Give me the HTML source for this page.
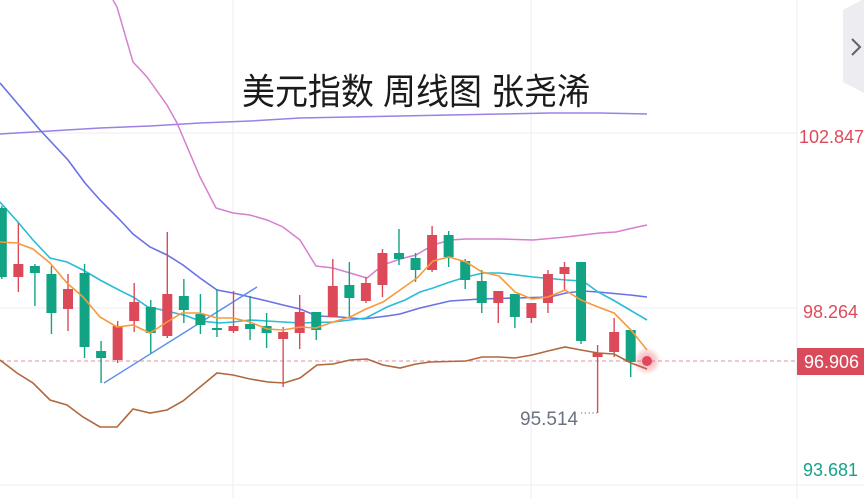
<!DOCTYPE html>
<html>
<head>
<meta charset="utf-8">
<style>
html,body{margin:0;padding:0;background:#fff;}
body{width:864px;height:498px;overflow:hidden;}
svg{display:block;}
</style>
</head>
<body>
<svg width="864" height="498" viewBox="0 0 864 498" xmlns="http://www.w3.org/2000/svg">
<defs>
<radialGradient id="glow" cx="50%" cy="50%" r="50%">
<stop offset="0%" stop-color="#e0475a" stop-opacity="0.5"/>
<stop offset="60%" stop-color="#e0475a" stop-opacity="0.25"/>
<stop offset="100%" stop-color="#e0475a" stop-opacity="0"/>
</radialGradient>
</defs>
<rect width="864" height="498" fill="#fff"/>
<!-- grid -->
<g stroke="#f0f1f4" stroke-width="1.2" fill="none">
<line x1="0" y1="133" x2="797" y2="133"/>
<line x1="0" y1="308" x2="797" y2="308"/>
<line x1="0" y1="485" x2="864" y2="485"/>
<line x1="233" y1="0" x2="233" y2="498"/>
<line x1="531" y1="0" x2="531" y2="498"/>
<line x1="797" y1="0" x2="797" y2="498"/>
</g>
<!-- title -->
<text x="242" y="104" font-family="'Liberation Sans','Noto Sans CJK SC',sans-serif" font-size="36" fill="#1a1a1a" textLength="348" lengthAdjust="spacingAndGlyphs">美元指数 周线图 张尧浠</text>
<!-- long MA purple -->
<polyline fill="none" stroke="#9b80e6" stroke-width="1.5" points="0,134 50,131 100,128 150,126 200,123 250,121 300,118 350,117 400,116 450,115 500,114 550,113 600,113 647,114"/>
<!-- pink upper band -->
<polyline fill="none" stroke="#d77fd0" stroke-width="1.5" points="113,0 117,7 133,62 147,77 167,105 177,123 200,177 216,208 233,213 250,215 267,220 283,227 300,240 316,266 333,268 350,273 367,278 383,265 400,259 416,255 433,245 450,240 466,239 500,239 533,240 566,237 600,233 616,232 633,228 647,225"/>
<!-- blue MA -->
<polyline fill="none" stroke="#6a70e6" stroke-width="1.6" points="0,83 40,130 68,160 85,183 100,200 120,220 133,234 150,247 167,255 183,265 200,278 217,290 233,293 250,297 267,301 283,305 300,309 317,316 340,317 363,319 387,316 400,314 420,308 450,301 480,299 516,298 550,297 566,293 583,291 598,292 630,295 647,297"/>
<!-- cyan MA -->
<polyline fill="none" stroke="#27bcd8" stroke-width="1.6" points="0,202 17,221 33,240 50,258 67,262 83,270 100,280 117,289 133,297 148,307 167,311 187,316 200,321 220,323 233,322 250,320 267,321 300,323 333,322 350,320 366,318 387,307 405,300 420,292 433,288 450,282 466,277 483,273 500,273 533,277 566,280 583,281 598,292 613,300 630,310 647,320"/>
<!-- trend line -->
<line x1="104" y1="383" x2="257" y2="287" stroke="#5b8cf0" stroke-width="1.4"/>
<!-- dashed price line -->
<line x1="0" y1="361" x2="797" y2="361" stroke="#eba3ab" stroke-width="1.2" stroke-dasharray="4,3"/>
<!-- candles -->
<g id="c"></g>
<!-- orange MA -->
<polyline fill="none" stroke="#f89a3c" stroke-width="1.6" points="0,242 17,243 33,249 50,263 67,283 83,297 100,317 117,327 133,325 150,333 167,322 182,313 200,313 217,318 233,318 250,322 267,329 283,330 300,327 316,328 333,322 350,317 366,309 383,302 400,290 417,278 433,261 449,257 466,262 482,272 499,276 515,292 532,299 548,297 565,290 581,300 598,307 614,313 631,330 647,350"/>
<!-- brown lower band -->
<polyline fill="none" stroke="#b0683c" stroke-width="1.6" points="0,360 17,373 33,383 50,400 67,405 83,417 100,427 117,427 133,409 150,413 167,410 183,401 200,387 217,373 233,375 250,379 268,382 284,383 300,378 317,365 333,364 350,360 367,359 383,365 400,368 416,364 430,362 466,361 482,357 499,357 515,358 532,355 548,351 565,347 581,350 598,353 614,354 631,363 647,369"/>
<!-- price dot -->
<circle cx="647" cy="361" r="14" fill="url(#glow)"/>
<circle cx="647" cy="361" r="5" fill="#e0475a"/>
<!-- low label -->
<text x="520" y="425" font-family="'Liberation Sans',sans-serif" font-size="19" fill="#6b7280">95.514</text>
<line x1="581" y1="413" x2="597" y2="413" stroke="#8a8f99" stroke-width="1.3" stroke-dasharray="1.3,2.5"/>
<!-- axis labels -->
<g font-family="'Liberation Sans',sans-serif" font-size="18">
<text x="799" y="143" fill="#df4a5b">102.847</text>
<text x="803" y="318" fill="#df4a5b">98.264</text>
<text x="803" y="476" fill="#15a386">93.681</text>
<rect x="797" y="348" width="67" height="27" fill="#d94b5b"/>
<text x="804" y="368" fill="#ffffff">96.906</text>
</g>
<!-- top right button -->
<polygon points="843,10 862,0 864,0 864,93 843,82" fill="#ececf1"/>
<polyline points="852,39 860,47 852,55" fill="none" stroke="#5c6370" stroke-width="2"/>
</svg>
<script>
(function(){
var d=[
[1,208,277,206,279],
[0,264,277,223,292],
[1,266,273,264,306],
[1,274,313,266,334],
[0,289,309,274,331],
[1,273,347,264,358],
[1,351,358,341,383],
[0,326,360,321,363],
[0,302,321,283,332],
[1,307,333,300,353],
[0,294,336,232,338],
[1,296,310,279,323],
[1,314,325,294,334],
[1,328,330,289,337],
[0,326,331,291,333],
[1,324,329,296,340],
[1,326,333,313,348],
[0,332,339,327,387],
[0,312,333,295,349],
[1,312,330,312,340],
[0,286,317,259,317],
[1,285,298,262,317],
[0,283,301,277,303],
[0,253,285,249,297],
[1,253,259,229,265],
[1,258,270,253,282],
[0,235,270,226,272],
[1,235,257,231,267],
[1,261,280,259,289],
[1,281,303,270,313],
[0,291,303,291,323],
[1,294,317,294,328],
[0,303,318,303,323],
[0,274,303,270,313],
[0,267,274,262,291],
[1,262,341,262,344],
[0,353,357,345,413],
[0,332,352,318,357],
[1,330,362,330,377]
];
var g=document.getElementById('c');var s='';
for(var i=0;i<d.length;i++){
var x=1.8+16.55*i;var c=d[i][0]?'#12a384':'#dc4a5a';
s+='<line x1="'+x+'" y1="'+d[i][3]+'" x2="'+x+'" y2="'+d[i][4]+'" stroke="'+c+'" stroke-width="1.4"/>';
var h=Math.max(d[i][2]-d[i][1],1.5);
s+='<rect x="'+(x-5)+'" y="'+d[i][1]+'" width="10" height="'+h+'" fill="'+c+'"/>';
}
g.innerHTML=s;
})();
</script>
</body>
</html>
